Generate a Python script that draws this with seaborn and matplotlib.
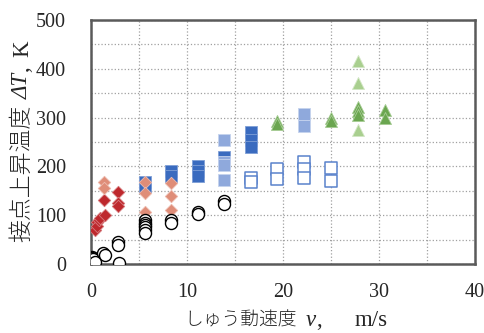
import matplotlib
matplotlib.use("Agg")
import matplotlib.pyplot as plt
from matplotlib.transforms import IdentityTransform
import numpy as np
import seaborn as sns

# 黒丸
circle_v = [0.1, 0.1, 0.2, 0.4, 1.2, 1.5, 2.8, 2.8, 2.9, 5.6, 5.6, 5.6, 5.6, 5.6, 5.6, 8.3, 8.3, 11.1, 11.1, 13.9, 13.9]
circle_T = [15, 12, 10, 5, 22, 18, 45, 38, 2, 90, 85, 80, 75, 70, 63, 90, 84, 107, 102, 130, 123]
# 赤ひし形
red_v = [0.4, 0.6, 0.6, 0.8, 0.9, 1.5, 1.4, 2.8, 2.8, 2.8]
red_T = [70, 87, 77, 90, 94, 100, 131, 147, 125, 118]
# 薄赤ひし形
salmon_v = [1.4, 1.4, 5.6, 5.6, 5.6, 8.3, 8.3, 8.3]
salmon_T = [167, 155, 169, 146, 107, 165, 139, 110]
# 青四角
blue_v = [5.6, 5.6, 8.3, 8.3, 11.1, 11.1, 11.1, 13.9, 16.7, 16.7, 16.7]
blue_T = [167, 157, 190, 180, 200, 190, 180, 219, 270, 255, 240]
# 薄青四角
lblue_v = [13.9, 13.9, 13.9, 13.9, 22.2, 22.2]
lblue_T = [254, 210, 203, 172, 308, 283]
# 白抜き四角
open_v = [16.7, 16.7, 19.4, 19.4, 22.2, 22.2, 22.2, 25.0, 25.0]
open_T = [177, 167, 194, 174, 208, 194, 176, 197, 171]
# 緑三角
green_v = [19.4, 19.4, 25.0, 25.0, 27.8, 27.8, 27.8, 30.6, 30.6]
green_T = [292, 286, 300, 292, 322, 313, 305, 316, 299]
# 薄緑三角
lgreen_v = [27.8, 27.8, 27.8]
lgreen_T = [415, 371, 274]

sns.set_style("white")
plt.rcParams["font.family"] = ["Liberation Serif", "Noto Sans CJK JP"]

JP = "Noto Sans CJK JP"
SERIF = "Liberation Serif"


def piece_label(fig, pieces, center, base, vertical=False):
    # 和文・英字を別々のテキストで並べる (pieces: 文字, フォント, サイズ, 斜体, 後ろの隙間px)
    renderer = fig.canvas.get_renderer()
    texts = []
    total = 0
    for s, fam, size, italic, gap in pieces:
        t = fig.text(0, 0, s, family=fam, fontsize=size, style="italic" if italic else "normal",
                     weight="light" if fam == JP else "normal",
                     rotation=90 if vertical else 0, rotation_mode="anchor",
                     ha="left", va="baseline", transform=IdentityTransform())
        bb = t.get_window_extent(renderer)
        w = bb.height if vertical else bb.width
        texts.append((t, w, gap))
        total += w + gap
    total -= texts[-1][2]
    pos = center - total / 2
    for t, w, gap in texts:
        t.set_position((base, pos) if vertical else (pos, base))
        pos += w + gap


fig = plt.figure(figsize=(4.85, 3.33), dpi=100)
ax = fig.add_axes([0.1876, 0.2072, 0.7918, 0.7328])

sns.scatterplot(x=blue_v, y=blue_T, ax=ax, marker="s", s=78, color="#3A6BBF", edgecolor="#7F9FD6", linewidth=0.6, zorder=3)
sns.scatterplot(x=lblue_v, y=lblue_T, ax=ax, marker="s", s=78, color="#8FA9DC", edgecolor="#C5D3EE", linewidth=0.6, zorder=3)
sns.scatterplot(x=open_v, y=open_T, ax=ax, marker="s", s=70, color="white", edgecolor="#5A82CC", linewidth=1.1, zorder=3)
sns.scatterplot(x=green_v, y=green_T, ax=ax, marker="^", s=75, color="#6BA650", edgecolor="#A6CC94", linewidth=0.6, zorder=3)
sns.scatterplot(x=lgreen_v, y=lgreen_T, ax=ax, marker="^", s=75, color="#A9CF8F", edgecolor="#D3E7C6", linewidth=0.6, zorder=3)
sns.scatterplot(x=red_v, y=red_T, ax=ax, marker="D", s=40, color="#BE282D", edgecolor="#D77A7D", linewidth=0.6, zorder=3)
sns.scatterplot(x=salmon_v, y=salmon_T, ax=ax, marker="D", s=40, color="#DF8D78", edgecolor="#EDBBAE", linewidth=0.6, zorder=3)
sns.scatterplot(x=circle_v, y=circle_T, ax=ax, marker="o", s=75, color="white", edgecolor="black", linewidth=1.0, zorder=4)

ax.set_xlim(0, 40)
ax.set_ylim(0, 500)
ax.set_xticks(np.arange(0, 41, 10))
ax.set_yticks(np.arange(0, 501, 100))
ax.set_xticks(np.arange(0, 41, 5), minor=True)
ax.set_yticks(np.arange(0, 501, 50), minor=True)
ax.grid(which="both", ls=":", color="#A0A0A0", lw=0.9)
ax.set_axisbelow(True)
ax.tick_params(which="both", length=0, labelsize=14.5)
ax.tick_params(axis="x", pad=14)
ax.tick_params(axis="y", pad=18)
for sp in ax.spines.values():
    sp.set_visible(True)
    sp.set_color("#5A5A5A")
    sp.set_linewidth(1.8)

# 軸ラベル (画素座標, 原点は左下)
piece_label(fig, [("しゅう動速度", JP, 13.5, False, 9),
                  ("v", SERIF, 16.5, True, 0),
                  (",", SERIF, 16.5, False, 33),
                  ("m/s", SERIF, 16.5, False, 0)],
            center=286, base=7)
piece_label(fig, [("接点上昇温度", JP, 16.5, False, 6),
                  ("ΔT", SERIF, 16.5, True, 0),
                  (",", SERIF, 16.5, False, 10),
                  ("K", SERIF, 16.5, False, 0)],
            center=192, base=28, vertical=True)

fig.savefig("out.png", dpi=100)
